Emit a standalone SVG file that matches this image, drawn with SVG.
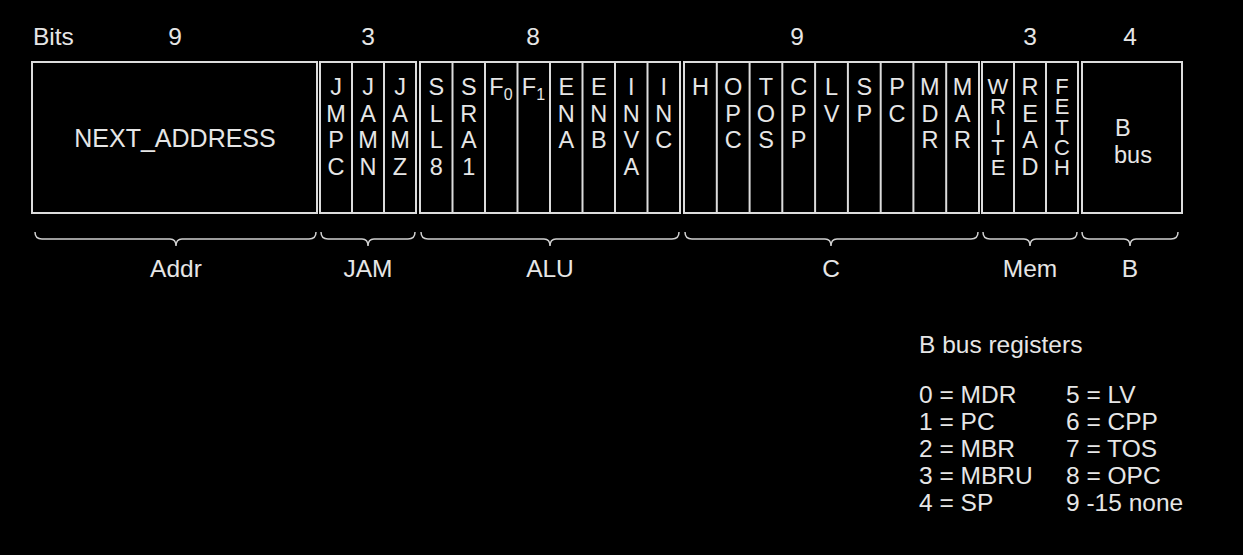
<svg xmlns="http://www.w3.org/2000/svg" width="1243" height="555" viewBox="0 0 1243 555">
<style>
text{font-family:"Liberation Sans",Arial,sans-serif;fill:#e6e6e6;font-size:23.5px}
.c{text-anchor:middle}
.lg{font-size:24.5px}
.box{fill:none;stroke:#dcdcdc;stroke-width:2}
.div{stroke:#dcdcdc;stroke-width:2}
.brace{fill:none;stroke:#cfcfcf;stroke-width:1.5}
</style>
<rect width="1243" height="555" fill="#000"/>
<g id="header">
<text x="33" y="45" class="lg">Bits</text>
<text class="c lg" x="175" y="45">9</text>
<text class="c lg" x="368" y="45">3</text>
<text class="c lg" x="533" y="45">8</text>
<text class="c lg" x="797" y="45">9</text>
<text class="c lg" x="1030" y="45">3</text>
<text class="c lg" x="1130" y="45">4</text>
</g>
<g id="addr">
<rect class="box" x="32" y="62" width="285" height="151"/>
<text class="c" x="175" y="147" style="font-size:25px">NEXT_ADDRESS</text>
</g>
<g id="jam">
<rect class="box" x="320" y="62" width="96" height="151"/>
<line class="div" x1="352" y1="62" x2="352" y2="213"/>
<line class="div" x1="384" y1="62" x2="384" y2="213"/>
<text class="c" y="95"><tspan x="336">J</tspan><tspan x="336" dy="26.5">M</tspan><tspan x="336" dy="26.5">P</tspan><tspan x="336" dy="26.5">C</tspan></text>
<text class="c" y="95"><tspan x="368">J</tspan><tspan x="368" dy="26.5">A</tspan><tspan x="368" dy="26.5">M</tspan><tspan x="368" dy="26.5">N</tspan></text>
<text class="c" y="95"><tspan x="400">J</tspan><tspan x="400" dy="26.5">A</tspan><tspan x="400" dy="26.5">M</tspan><tspan x="400" dy="26.5">Z</tspan></text>
</g>
<g id="alu">
<rect class="box" x="420" y="62" width="260" height="151"/>
<line class="div" x1="452.5" y1="62" x2="452.5" y2="213"/>
<line class="div" x1="485" y1="62" x2="485" y2="213"/>
<line class="div" x1="517.5" y1="62" x2="517.5" y2="213"/>
<line class="div" x1="550" y1="62" x2="550" y2="213"/>
<line class="div" x1="582.5" y1="62" x2="582.5" y2="213"/>
<line class="div" x1="615" y1="62" x2="615" y2="213"/>
<line class="div" x1="647.5" y1="62" x2="647.5" y2="213"/>
<text class="c" y="95"><tspan x="436.25">S</tspan><tspan x="436.25" dy="26.5">L</tspan><tspan x="436.25" dy="26.5">L</tspan><tspan x="436.25" dy="26.5">8</tspan></text>
<text class="c" y="95"><tspan x="468.75">S</tspan><tspan x="468.75" dy="26.5">R</tspan><tspan x="468.75" dy="26.5">A</tspan><tspan x="468.75" dy="26.5">1</tspan></text>
<text class="c" x="501" y="95">F<tspan dy="5" style="font-size:16px">0</tspan></text>
<text class="c" x="533.5" y="95">F<tspan dy="5" style="font-size:16px">1</tspan></text>
<text class="c" y="95"><tspan x="566.25">E</tspan><tspan x="566.25" dy="26.5">N</tspan><tspan x="566.25" dy="26.5">A</tspan></text>
<text class="c" y="95"><tspan x="598.75">E</tspan><tspan x="598.75" dy="26.5">N</tspan><tspan x="598.75" dy="26.5">B</tspan></text>
<text class="c" y="95"><tspan x="631.25">I</tspan><tspan x="631.25" dy="26.5">N</tspan><tspan x="631.25" dy="26.5">V</tspan><tspan x="631.25" dy="26.5">A</tspan></text>
<text class="c" y="95"><tspan x="663.75">I</tspan><tspan x="663.75" dy="26.5">N</tspan><tspan x="663.75" dy="26.5">C</tspan></text>
</g>
<g id="c-field">
<rect class="box" x="684" y="62" width="295" height="151"/>
<line class="div" x1="716.8" y1="62" x2="716.8" y2="213"/>
<line class="div" x1="749.6" y1="62" x2="749.6" y2="213"/>
<line class="div" x1="782.3" y1="62" x2="782.3" y2="213"/>
<line class="div" x1="815.1" y1="62" x2="815.1" y2="213"/>
<line class="div" x1="847.9" y1="62" x2="847.9" y2="213"/>
<line class="div" x1="880.7" y1="62" x2="880.7" y2="213"/>
<line class="div" x1="913.4" y1="62" x2="913.4" y2="213"/>
<line class="div" x1="946.2" y1="62" x2="946.2" y2="213"/>
<text class="c" x="700.4" y="95">H</text>
<text class="c" y="95"><tspan x="733.2">O</tspan><tspan x="733.2" dy="26.5">P</tspan><tspan x="733.2" dy="26.5">C</tspan></text>
<text class="c" y="95"><tspan x="766">T</tspan><tspan x="766" dy="26.5">O</tspan><tspan x="766" dy="26.5">S</tspan></text>
<text class="c" y="95"><tspan x="798.7">C</tspan><tspan x="798.7" dy="26.5">P</tspan><tspan x="798.7" dy="26.5">P</tspan></text>
<text class="c" y="95"><tspan x="831.5">L</tspan><tspan x="831.5" dy="26.5">V</tspan></text>
<text class="c" y="95"><tspan x="864.3">S</tspan><tspan x="864.3" dy="26.5">P</tspan></text>
<text class="c" y="95"><tspan x="897.1">P</tspan><tspan x="897.1" dy="26.5">C</tspan></text>
<text class="c" y="95"><tspan x="929.9">M</tspan><tspan x="929.9" dy="26.5">D</tspan><tspan x="929.9" dy="26.5">R</tspan></text>
<text class="c" y="95"><tspan x="962.6">M</tspan><tspan x="962.6" dy="26.5">A</tspan><tspan x="962.6" dy="26.5">R</tspan></text>
</g>
<g id="mem">
<rect class="box" x="982" y="62" width="96" height="151"/>
<line class="div" x1="1014" y1="62" x2="1014" y2="213"/>
<line class="div" x1="1046" y1="62" x2="1046" y2="213"/>
<text class="c" y="94" style="font-size:22px"><tspan x="998">W</tspan><tspan x="998" dy="20.3">R</tspan><tspan x="998" dy="20.3">I</tspan><tspan x="998" dy="20.3">T</tspan><tspan x="998" dy="20.3">E</tspan></text>
<text class="c" y="95"><tspan x="1030">R</tspan><tspan x="1030" dy="26.5">E</tspan><tspan x="1030" dy="26.5">A</tspan><tspan x="1030" dy="26.5">D</tspan></text>
<text class="c" y="94" style="font-size:22px"><tspan x="1062">F</tspan><tspan x="1062" dy="20.3">E</tspan><tspan x="1062" dy="20.3">T</tspan><tspan x="1062" dy="20.3">C</tspan><tspan x="1062" dy="20.3">H</tspan></text>
</g>
<g id="bbus">
<rect class="box" x="1082" y="62" width="100" height="151"/>
<text y="136"><tspan x="1115">B</tspan><tspan x="1114" dy="27">bus</tspan></text>
</g>
<g id="braces">
<path class="brace" d="M35 232 Q35 239 42 239 H170 Q176 239 176 246 Q176 239 182 239 H309 Q316 239 316 232"/>
<path class="brace" d="M321 232 Q321 239 328 239 H362 Q368 239 368 246 Q368 239 374 239 H408 Q415 239 415 232"/>
<path class="brace" d="M421 232 Q421 239 428 239 H544 Q550 239 550 246 Q550 239 556 239 H672 Q679 239 679 232"/>
<path class="brace" d="M685 232 Q685 239 692 239 H825 Q831 239 831 246 Q831 239 837 239 H971 Q978 239 978 232"/>
<path class="brace" d="M983 232 Q983 239 990 239 H1024 Q1030 239 1030 246 Q1030 239 1036 239 H1070 Q1077 239 1077 232"/>
<path class="brace" d="M1082 232 Q1082 239 1089 239 H1124 Q1130 239 1130 246 Q1130 239 1136 239 H1171 Q1178 239 1178 232"/>
</g>
<g id="labels">
<text class="c lg" x="176" y="277">Addr</text>
<text class="c lg" x="368" y="277">JAM</text>
<text class="c lg" x="550" y="277">ALU</text>
<text class="c lg" x="831" y="277">C</text>
<text class="c lg" x="1030" y="277">Mem</text>
<text class="c lg" x="1130" y="277">B</text>
</g>
<g id="legend" class="lg">
<text class="lg" x="919" y="353">B bus registers</text>
<text class="lg" x="919" y="403">0 = MDR</text>
<text class="lg" x="919" y="430">1 = PC</text>
<text class="lg" x="919" y="457">2 = MBR</text>
<text class="lg" x="919" y="484">3 = MBRU</text>
<text class="lg" x="919" y="511">4 = SP</text>
<text class="lg" x="1066" y="403">5 = LV</text>
<text class="lg" x="1066" y="430">6 = CPP</text>
<text class="lg" x="1066" y="457">7 = TOS</text>
<text class="lg" x="1066" y="484">8 = OPC</text>
<text class="lg" x="1066" y="511">9 -15 none</text>
</g>
</svg>
